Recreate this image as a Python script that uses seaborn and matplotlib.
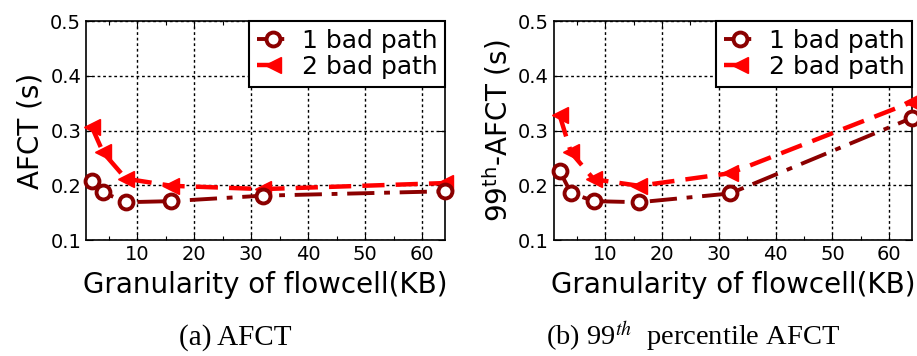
import matplotlib
matplotlib.use("Agg")
import matplotlib.pyplot as plt
from matplotlib.ticker import MultipleLocator
import pandas as pd
import seaborn as sns

# valores
granularidade = [2, 4, 8, 16, 32, 64]
afct_1bad = [0.208, 0.187, 0.169, 0.171, 0.181, 0.189]
afct_2bad = [0.307, 0.260, 0.212, 0.199, 0.193, 0.204]
p99_1bad = [0.226, 0.186, 0.171, 0.169, 0.185, 0.323]
p99_2bad = [0.328, 0.260, 0.211, 0.199, 0.222, 0.352]

yticks = [0.1, 0.2, 0.3, 0.4, 0.5]
xticks = [10, 20, 30, 40, 50, 60]

sns.set_style("ticks")
plt.rcParams["font.family"] = ["DejaVu Sans"]
plt.rcParams["mathtext.fontset"] = "stix"
plt.rcParams["text.color"] = "black"
plt.rcParams["axes.labelcolor"] = "black"
plt.rcParams["xtick.color"] = "black"
plt.rcParams["ytick.color"] = "black"

fig = plt.figure(figsize=(9.17, 3.56), dpi=100)
ax1 = fig.add_axes([0.0938, 0.3258, 0.3915, 0.6152])
ax2 = fig.add_axes([0.6041, 0.3258, 0.3904, 0.6152])

cor1 = "#8b0000"
cor2 = "#ff0000"


def desenha(ax, s1, s2, ylabel):
    df = pd.DataFrame({"x": granularidade, "um": s1, "dois": s2})
    sns.lineplot(
        data=df, x="x", y="um", ax=ax, color=cor1, marker="o",
        markersize=10, markerfacecolor="white", markeredgecolor=cor1,
        markeredgewidth=2.8, linewidth=2.8,
        label="1 bad path", zorder=4, clip_on=False,
    )
    sns.lineplot(
        data=df, x="x", y="dois", ax=ax, color=cor2, marker="<",
        markersize=11, markerfacecolor=cor2, markeredgecolor=cor2,
        markeredgewidth=1.0, linewidth=3.2,
        label="2 bad path", zorder=3, clip_on=False,
    )
    ax.lines[0].set_dashes([7, 2.5, 1.5, 2.5])
    ax.lines[1].set_dashes([5, 2.5])

    ax.set_xlim(1, 64)
    ax.set_ylim(0.1, 0.5)
    ax.set_xticks(xticks)
    ax.set_yticks(yticks)
    ax.set_yticklabels([f"{v:.1f}" for v in yticks])
    ax.xaxis.set_minor_locator(MultipleLocator(5))
    ax.tick_params(axis="both", which="both", direction="in", top=True,
                   right=True, labelsize=14, width=0.8, color="black")
    ax.tick_params(which="major", length=5)
    ax.tick_params(which="minor", length=3)
    ax.grid(True, which="major", color="black", linestyle=(0, (2, 2)),
            linewidth=1.0)
    for s in ax.spines.values():
        s.set_color("black")
        s.set_linewidth(1.2)
    ax.set_xlabel("Granularity of flowcell(KB)", fontsize=20, labelpad=5)
    ax.set_ylabel(ylabel, fontsize=20, labelpad=4)

    leg = ax.legend(loc="upper right", fontsize=18, frameon=True,
                    fancybox=False, borderaxespad=0, handlelength=1.3,
                    handletextpad=0.5, borderpad=0.3, labelspacing=0.1)
    leg.get_frame().set_edgecolor("black")
    leg.get_frame().set_linewidth(1.5)
    leg.get_frame().set_alpha(1)


desenha(ax1, afct_1bad, afct_2bad, "AFCT (s)")
desenha(ax2, p99_1bad, p99_2bad, r"99$^{\mathregular{th}}$-AFCT (s)")

fig.text(0.257, 0.053, "(a) AFCT", ha="center", va="center",
         fontsize=21, family="Liberation Serif")
fig.text(0.756, 0.053, r"(b) 99$^{th}$  percentile AFCT", ha="center",
         va="center", fontsize=20.5, family="Liberation Serif")

fig.savefig("out.png", dpi=100)
